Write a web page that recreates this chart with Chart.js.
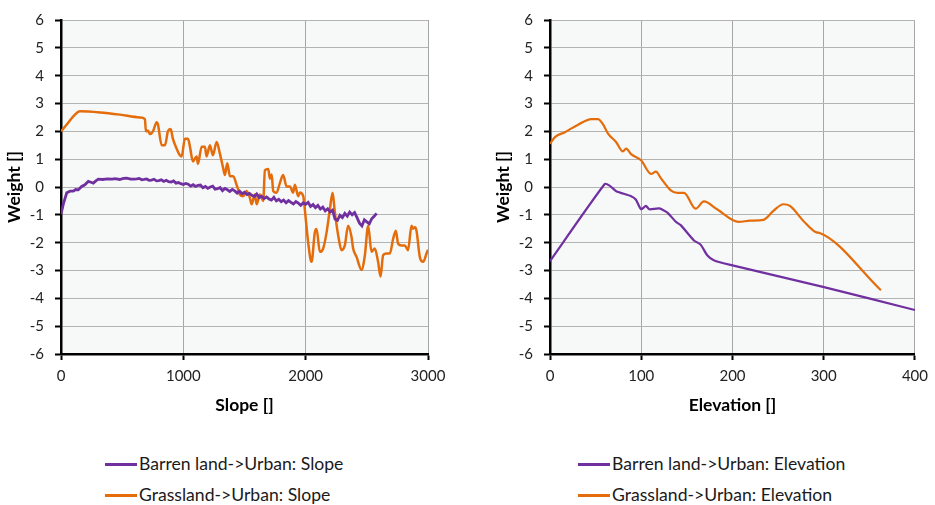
<!DOCTYPE html>
<html><head><meta charset="utf-8">
<script src="https://cdn.jsdelivr.net/npm/chart.js@4/dist/chart.umd.min.js"></script>
<style>
html,body{margin:0;padding:0;background:#fff;width:935px;height:505px;overflow:hidden;font-family:Lato,"Liberation Sans",sans-serif;}
.cv{position:absolute;top:0;}
.leg{position:absolute;font-size:17.6px;color:#1a1a1a;line-height:18px;white-space:nowrap;}
.leg span.ln{display:inline-block;width:32px;height:2.5px;vertical-align:middle;margin-right:2px;position:relative;top:-1px;}
</style></head><body>
<div class="cv" style="left:0;width:465px;height:430px;"><canvas id="c1"></canvas></div>
<div class="cv" style="left:489px;width:446px;height:430px;"><canvas id="c2"></canvas></div>
<div id="leg1"></div><div id="leg2"></div>
<script>
// ---- data ----
const slopeTicks = [0, 1000, 2000, 3000];
const elevTicks = [0, 100, 200, 300, 400];
const weightTicks = [-6,-5,-4,-3,-2,-1,0,1,2,3,4,5,6];

const seriesNames = ["Barren land->Urban: Slope", "Grassland->Urban: Slope", "Barren land->Urban: Elevation", "Grassland->Urban: Elevation"];

const barrenSlopeX = [0,20,47,74,100,120,141,169,195,223,245,264,285,305,340,380,420,441,480,510,537,570,600,620,640,660,680,700,720,740,760,780,800,820,840,860,880,900,920,940,960,980,1000,1020,1040,1060,1080,1100,1120,1140,1160,1180,1200,1220,1240,1260,1280,1300,1320,1340,1360,1380,1400,1420,1440,1460,1480,1500,1520,1540,1560,1580,1600,1620,1640,1660,1680,1700,1720,1740,1760,1780,1800,1820,1840,1860,1880,1900,1920,1940,1960,1980,2000,2020,2040,2060,2080,2100,2120,2140,2160,2180,2200,2220,2240,2260,2280,2300,2320,2340,2360,2380,2400,2420,2440,2460,2480,2500,2520,2540,2560,2580];
const barrenSlopeY = [-0.98,-0.6,-0.21,-0.15,-0.15,-0.09,-0.1,0.02,0.08,0.2,0.17,0.14,0.22,0.28,0.27,0.29,0.28,0.3,0.27,0.31,0.32,0.28,
  0.28,0.29,0.31,0.26,0.27,0.29,0.24,0.25,0.28,0.22,0.23,0.26,0.2,0.24,0.19,0.18,0.22,0.14,0.16,0.12,0.09,0.13,0.1,0.03,0.08,0.02,0.06,0.07,-0.03,0.02,-0.05,0.0,0.03,-0.08,-0.06,-0.02,-0.13,-0.05,-0.1,-0.16,-0.09,-0.14,-0.22,-0.15,-0.24,-0.19,
  -0.27,-0.23,-0.3,-0.34,-0.25,-0.38,-0.33,-0.41,-0.36,-0.43,-0.47,-0.37,-0.5,-0.44,-0.53,-0.47,-0.57,-0.49,-0.55,-0.61,-0.52,-0.58,-0.66,-0.57,-0.62,-0.55,-0.7,-0.63,-0.74,-0.66,-0.79,-0.72,-0.86,-0.78,-0.9,-0.83,
  -1.15,-1.2,-1.02,-1.1,-0.95,-1.05,-0.9,-1.0,-0.92,-1.1,-1.3,-1.4,-1.18,-1.25,-1.32,-1.14,-1.05,-0.95];

const grassSlopeX = [0,57,114,155,319,482,645,686,694,711,727,752,782,792,823,850,874,896,915,945,972,986,1013,1038,1054,1078,1109,1119,1150,1176,1190,1217,1242,1272,1299,1326,1340,1359,1381,1408,1435,1449,1462,1489,1517,1544,1558,1585,1599,1626,1653,1667,1694,1708,1722,1735,1762,1789,1816,1844,1871,1898,1912,1939,1953,1980,1993,2020,2048,2075,2089,2116,2143,2171,2198,2220,2239,2266,2293,2320,2347,2375,2388,2416,2457,2484,2511,2538,2565,2592,2612,2633,2661,2688,2715,2737,2756,2783,2810,2837,2865,2878,2892,2906,2933,2960,2988,3000];
const grassSlopeY = [2.0,2.3,2.6,2.72,2.68,2.6,2.5,2.44,2.0,2.03,1.9,2.0,2.33,2.26,1.5,1.5,2.0,2.08,1.73,1.38,1.14,1.1,1.73,1.73,1.45,0.92,1.1,0.83,1.45,1.45,1.1,1.5,1.14,1.62,1.2,0.67,0.43,0.85,0.39,0.39,0.08,-0.1,-0.27,-0.33,-0.14,-0.39,-0.62,-0.27,-0.62,-0.27,-0.5,0.6,0.65,0.3,0.45,-0.15,-0.21,0.14,0.43,0.02,0.02,-0.2,0.08,-0.33,-0.2,-0.33,-0.8,-1.98,-2.69,-1.63,-1.51,-2.33,-2.21,-1.63,-0.8,-0.21,-0.92,-1.74,-2.27,-2.1,-1.39,-1.8,-2.21,-2.51,-2.98,-2.45,-1.39,-2.33,-2.21,-2.69,-3.22,-2.45,-2.39,-2.39,-1.86,-1.57,-2.04,-2.1,-2.1,-2.27,-1.39,-1.5,-1.45,-1.57,-2.51,-2.69,-2.39,-2.25];

const barrenElevX = [0,59.8,65.3,72.6,88.9,94,99.8,105.2,108.8,119.7,128.7,137.9,143.3,157.8,165.1,172.3,179.5,197.7,299.2,400];
const barrenElevY = [-2.66,0.1,0.05,-0.15,-0.33,-0.45,-0.8,-0.68,-0.8,-0.77,-0.92,-1.25,-1.37,-1.92,-2.07,-2.45,-2.63,-2.8,-3.59,-4.42];

const grassElevX = [0,5.4,16.3,30.8,45.4,52.6,58,63.4,72.6,79.8,83.5,88.9,99.8,110.7,116.1,121.5,132.4,139.6,146.9,159.6,168.7,183.1,206.7,219.5,234,244.8,255.7,263,277.5,292,295.6,362.7];
const grassElevY = [1.55,1.79,1.97,2.24,2.44,2.44,2.26,1.93,1.61,1.28,1.38,1.18,0.96,0.47,0.55,0.32,-0.12,-0.21,-0.21,-0.78,-0.52,-0.8,-1.25,-1.21,-1.18,-0.86,-0.62,-0.68,-1.21,-1.63,-1.65,-3.71];

const PURPLE = '#7030A0', ORANGE = '#E46C0A';
const FONT = 'Lato';

function pts(xs, ys){ return xs.map((x,i)=>({x:x, y:ys[i]})); }

const bgPlugin = {
  id:'plotBg',
  beforeDraw(chart){
    const {ctx, chartArea:a} = chart;
    ctx.save(); ctx.fillStyle = '#f7f9f9';
    ctx.fillRect(a.left, a.top, a.right-a.left, a.bottom-a.top);
    ctx.restore();
  }
};

function makeChart(id, ds, xTicks, xMax, xTitle, padRight){
  return new Chart(document.getElementById(id), {
    type:'line',
    data:{datasets: ds},
    plugins:[bgPlugin],
    options:{
      responsive:true, maintainAspectRatio:false, animation:false,
      layout:{padding:{top:14,right:padRight,bottom:0,left:0}},
      plugins:{legend:{display:false}, tooltip:{enabled:false}},
      elements:{point:{radius:0}},
      scales:{
        x:{type:'linear', min:0, max:xMax,
          afterBuildTicks:s=>{ s.ticks = xTicks.map(v=>({value:v})); },
          afterFit:s=>{ s.height = 76; },
          grid:{color:'#a6a6a6', lineWidth:1, tickColor:'#000', tickLength:6, tickWidth:2},
          border:{color:'#000', width:2.5},
          ticks:{color:'#222', font:{family:FONT,size:15}, padding:7, maxRotation:0, autoSkip:false, callback:v=>String(v)},
          title:{display:true, text:xTitle, color:'#000', font:{family:FONT,size:17.5,weight:'bold'}, padding:{top:0,bottom:14}}
        },
        y:{type:'linear', min:-6, max:6,
          afterBuildTicks:s=>{ s.ticks = weightTicks.map(v=>({value:v})); },
          afterFit:s=>{ s.width = 61; },
          grid:{color:'#b3b3b3', lineWidth:1, tickColor:'#000', tickLength:6, tickWidth:2},
          border:{color:'#000', width:2.5},
          ticks:{color:'#222', font:{family:FONT,size:15}, padding:11, autoSkip:false, callback:v=>String(v)},
          title:{display:true, text:'Weight []', color:'#000', font:{family:FONT,size:17.5,weight:'bold'}, padding:{top:3.5,bottom:0}}
        }
      }
    }
  });
}

makeChart('c1', [
  {label:seriesNames[0], data:pts(barrenSlopeX, barrenSlopeY), borderColor:PURPLE, borderWidth:2.8, tension:0},
  {label:seriesNames[1], data:pts(grassSlopeX, grassSlopeY), borderColor:ORANGE, borderWidth:2.5, tension:0.3, cubicInterpolationMode:'monotone'}
], slopeTicks, 3000, 'Slope []', 37);

makeChart('c2', [
  {label:seriesNames[2], data:pts(barrenElevX, barrenElevY), borderColor:PURPLE, borderWidth:2.2, tension:0.2},
  {label:seriesNames[3], data:pts(grassElevX, grassElevY), borderColor:ORANGE, borderWidth:2.2, tension:0.3, cubicInterpolationMode:'monotone'}
], elevTicks, 400, 'Elevation []', 17);

function legend(id, left, names){
  const el = document.getElementById(id);
  const cols = [PURPLE, ORANGE];
  names.forEach((n,i)=>{
    const d = document.createElement('div');
    d.className='leg';
    d.style.left = left+'px';
    d.style.top = (455 + i*31)+'px';
    d.innerHTML = '<span class="ln" style="background:'+cols[i]+'"></span>'+n.replace(/>/g,'&gt;');
    el.appendChild(d);
  });
}
legend('leg1', 105, seriesNames.slice(0,2));
legend('leg2', 578, seriesNames.slice(2,4));
</script>
</body></html>
